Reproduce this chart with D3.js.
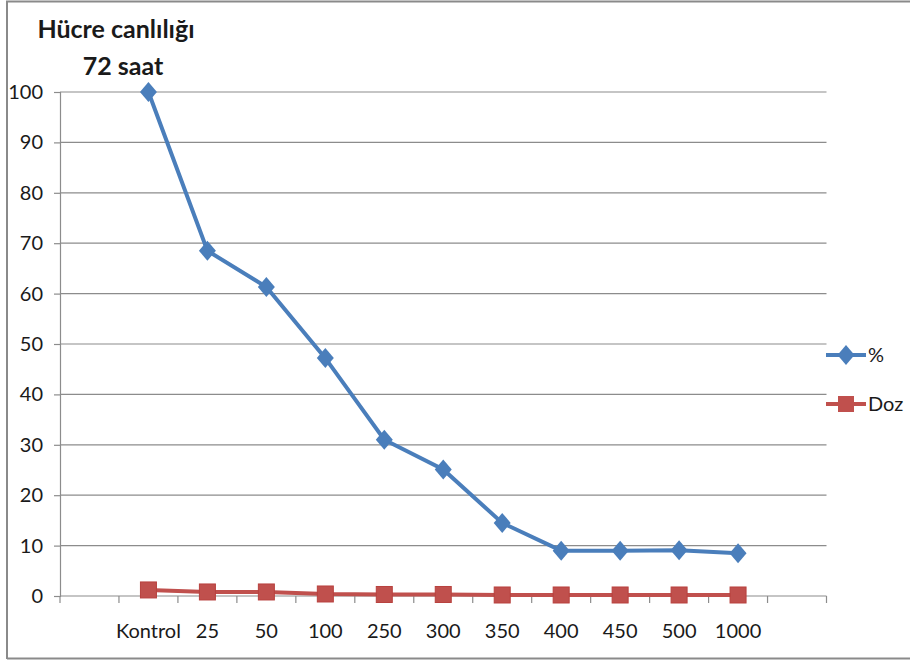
<!DOCTYPE html>
<html>
<head>
<meta charset="utf-8">
<script src="https://cdn.jsdelivr.net/npm/d3@7"></script>
<style>
  html, body { margin: 0; padding: 0; background: #fff; }
  svg text { font-family: Lato, "Open Sans", sans-serif; fill: #1a1a1a; }
</style>
</head>
<body>
<svg id="chart" width="910" height="664"></svg>
<script>
// Dose groups (first and last slots are empty padding on the category axis)
const categories = ["", "Kontrol", "25", "50", "100", "250", "300", "350", "400", "450", "500", "1000", " "];
const doseLabels = ["Kontrol", "25", "50", "100", "250", "300", "350", "400", "450", "500", "1000"];
// Cell viability (%) after 72 h
const viability = [100, 68.5, 61.3, 47.2, 31.0, 25.1, 14.5, 9.0, 9.0, 9.1, 8.5];
// "Doz" series
const doz = [1.2, 0.8, 0.8, 0.4, 0.3, 0.3, 0.2, 0.2, 0.2, 0.2, 0.2];
const yTicks = [0, 10, 20, 30, 40, 50, 60, 70, 80, 90, 100];

const svg = d3.select("#chart");

// outer frame
svg.append("path")
  .attr("d", "M7,659 V1.5 H910 M7,658.5 H910")
  .attr("fill", "none").attr("stroke", "#8a8a8a").attr("stroke-width", 2);

const plotLeft = 60, plotRight = 826.5, plotTop = 92, plotBottom = 596;

const x = d3.scaleBand().domain(categories).range([plotLeft, plotRight]).padding(0);
const y = d3.scaleLinear().domain([0, 100]).range([plotBottom, plotTop]);

// horizontal gridlines
svg.append("g").selectAll("line").data(yTicks.filter(d => d > 0)).join("line")
  .attr("x1", plotLeft).attr("x2", plotRight)
  .attr("y1", d => y(d)).attr("y2", d => y(d))
  .attr("stroke", "#8c8c8c").attr("stroke-width", 1.2);

// y axis
const yAxis = svg.append("g").attr("transform", `translate(${plotLeft},0)`)
  .call(d3.axisLeft(y).tickValues(yTicks).tickSize(6).tickPadding(11));
yAxis.select(".domain").attr("stroke", "#8c8c8c").attr("stroke-width", 1.2);
yAxis.selectAll(".tick line").attr("stroke", "#8c8c8c").attr("stroke-width", 1.2);
yAxis.selectAll(".tick text").attr("font-size", 20).attr("fill", "#1a1a1a")
  .style("font-family", "Lato, 'Open Sans', sans-serif");

// x axis: ticks at band boundaries
const boundaries = categories.map(c => x(c)).concat([plotRight]);
svg.append("line").attr("x1", plotLeft).attr("x2", plotRight).attr("y1", plotBottom).attr("y2", plotBottom)
  .attr("stroke", "#8c8c8c").attr("stroke-width", 1.2);
svg.append("g").selectAll("line").data(boundaries).join("line")
  .attr("x1", d => d).attr("x2", d => d).attr("y1", plotBottom).attr("y2", plotBottom + 7)
  .attr("stroke", "#8c8c8c").attr("stroke-width", 1.2);
svg.append("g").selectAll("text").data(doseLabels).join("text")
  .attr("x", d => x(d) + x.bandwidth() / 2)
  .attr("y", plotBottom + 42)
  .attr("text-anchor", "middle")
  .attr("font-size", 20)
  .text(d => d);

const cx = (d, i) => x(doseLabels[i]) + x.bandwidth() / 2;

// Doz series (red squares)
const redLine = d3.line().x((d, i) => cx(d, i)).y(d => y(d));
svg.append("path").datum(doz).attr("d", redLine)
  .attr("fill", "none").attr("stroke", "#c0504d").attr("stroke-width", 4);
svg.append("g").selectAll("rect").data(doz).join("rect")
  .attr("x", (d, i) => cx(d, i) - 8).attr("y", d => y(d) - 8)
  .attr("width", 16).attr("height", 16)
  .attr("fill", "#c0504d").attr("stroke", "#b8413e").attr("stroke-width", 1);

// Viability series (blue diamonds)
const blueLine = d3.line().x((d, i) => cx(d, i)).y(d => y(d));
svg.append("path").datum(viability).attr("d", blueLine)
  .attr("fill", "none").attr("stroke", "#4a7ebb").attr("stroke-width", 4);
const diamond = "M0,-10 L8.5,0 L0,10 L-8.5,0 Z";
svg.append("g").selectAll("path").data(viability).join("path")
  .attr("d", diamond)
  .attr("transform", (d, i) => `translate(${cx(d, i)},${y(d)})`)
  .attr("fill", "#4a7ebb");

// legend
const legend = svg.append("g");
legend.append("line").attr("x1", 826).attr("x2", 866).attr("y1", 355).attr("y2", 355)
  .attr("stroke", "#4a7ebb").attr("stroke-width", 4);
legend.append("path").attr("d", diamond).attr("transform", "translate(846,355)").attr("fill", "#4a7ebb");
legend.append("text").attr("x", 868).attr("y", 362).attr("font-size", 20).text("%");
legend.append("line").attr("x1", 826).attr("x2", 866).attr("y1", 404).attr("y2", 404)
  .attr("stroke", "#c0504d").attr("stroke-width", 4);
legend.append("rect").attr("x", 838).attr("y", 396).attr("width", 16).attr("height", 16)
  .attr("fill", "#c0504d");
legend.append("text").attr("x", 868).attr("y", 411).attr("font-size", 20).text("Doz");

// title
svg.append("text").attr("x", 116).attr("y", 38).attr("text-anchor", "middle")
  .attr("font-size", 25).attr("font-weight", "bold").text("Hücre canlılığı");
svg.append("text").attr("x", 123).attr("y", 75).attr("text-anchor", "middle")
  .attr("font-size", 25).attr("font-weight", "bold").text("72 saat");
</script>
</body>
</html>
